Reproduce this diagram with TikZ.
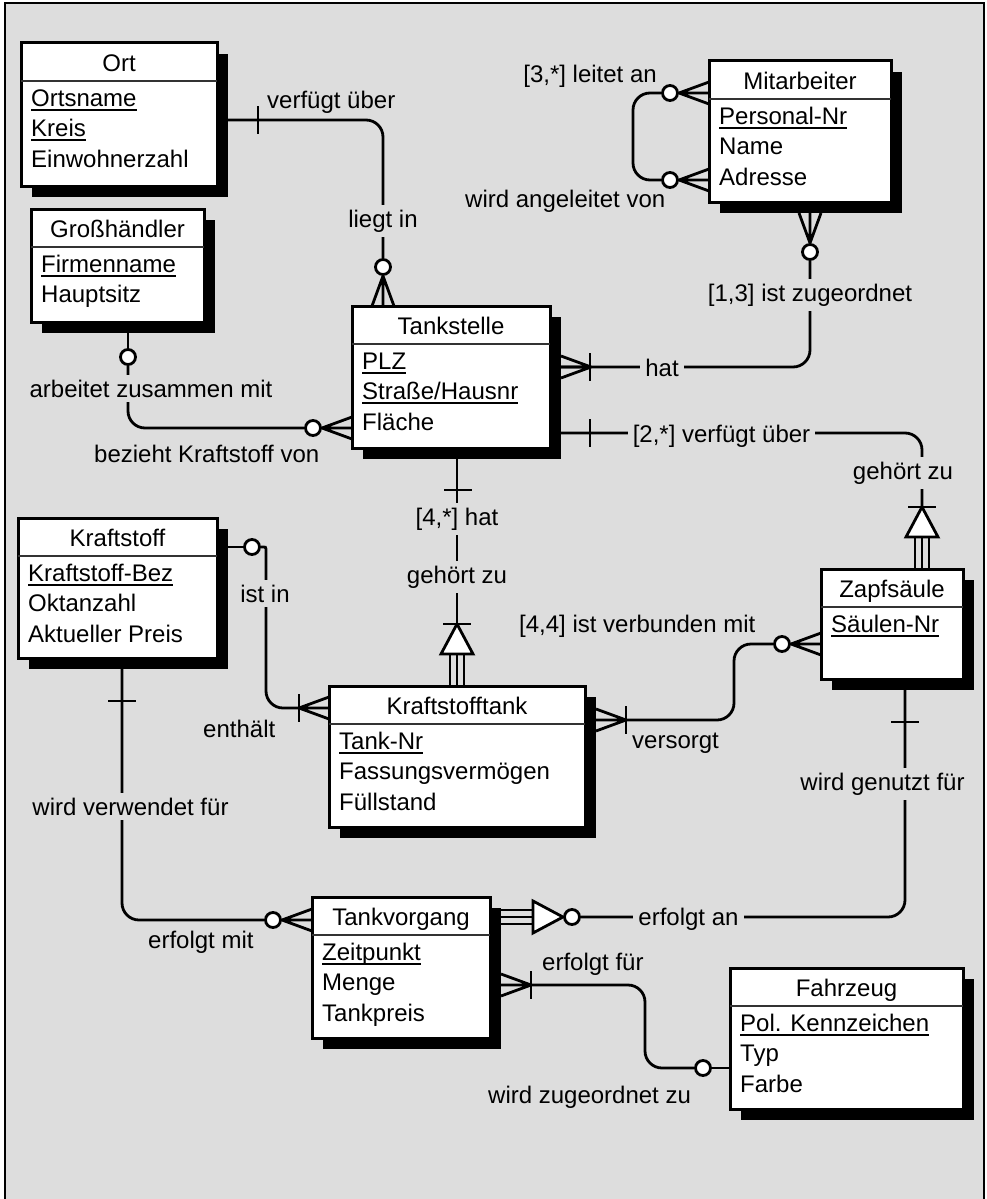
\documentclass[tikz,border=0pt]{standalone}
\usepackage{fontspec}
\setmainfont{Liberation Sans}
\usepackage{xcolor}
\usepackage{tikz}
\usetikzlibrary{shadows,calc}

\definecolor{bg}{RGB}{221,221,221}

% underlined key attribute
\newcommand{\keyattr}[1]{\setbox0\hbox{#1}\rlap{\rule[-4.5pt]{\wd0}{1.8pt}}\box0}

% entity: name, left, top, width, height, title, attributes
\newcommand{\entity}[7]{%
    \node[entity, minimum width=#4pt, minimum height=#5pt] (#1) at (#2+#4/2, #3+#5/2) {};
    \draw[divider] ([yshift=-38pt]#1.north west) -- ([yshift=-38pt]#1.north east);
    \node[anchor=base, inner sep=0pt] (#1-title) at ([yshift=-28pt]#1.north) {#6};
    \foreach \attr [count=\i from 0] in {#7}
        \node[anchor=base west, inner sep=0pt] (#1-\i) at ([xshift=10pt, yshift=-63pt-30.5pt*\i]#1.north west) {\attr};
}

\begin{document}
\begin{tikzpicture}[x=1pt, y=-1pt, every node/.style={font=\fontsize{24pt}{30pt}\selectfont}]
    % Define styles
    \tikzstyle{entity} = [rectangle, draw, fill=white, line width=3pt, inner sep=0pt, outer sep=0pt, drop shadow={shadow xshift=11pt, shadow yshift=-11pt, opacity=1, fill=black}]
    \tikzstyle{divider} = [line width=2.8pt, black!80]
    \tikzstyle{rel} = [line width=2.8pt, rounded corners=17pt]
    \tikzstyle{leg} = [line width=2.8pt, line join=round]
    \tikzstyle{sub} = [line width=2pt]
    \tikzstyle{opt} = [circle, draw, fill=white, line width=2.8pt, inner sep=0pt, minimum size=15pt]
    \tikzstyle{lbl} = [inner sep=0pt, anchor=base west]
    \tikzstyle{gap} = [fill=bg, inner sep=5pt, anchor=base]
    \tikzset{
        crow/.pic={\draw[leg] (0,-11) -- (30,0) -- (0,11) (0,0) -- (30,0); \coordinate (-tip) at (30,0);},
        isa/.pic={\draw[sub] (0,-7) -- (32,-7) (0,0) -- (32,0) (0,7) -- (32,7);
                  \draw[leg, line join=miter, fill=white] (32,-16) -- (62,0) -- (32,16) -- cycle;
                  \coordinate (-tip) at (62,0);}
    }

    % Frame
    \useasboundingbox (0,0) rectangle (987,1199);
    \fill[bg] (5,3) rectangle (984,1199);
    \draw[line width=2pt] (5,1199) -- (5,3) -- (984,3) -- (984,1199);

    % Entities
    \entity{ort}{21}{43}{196}{143}{Ort}{\keyattr{Ortsname}, \keyattr{Kreis}, Einwohnerzahl}
    \entity{gross}{31}{209}{173}{113}{Großhändler}{\keyattr{Firmenname}, Hauptsitz}
    \entity{ma}{709}{61}{182}{141}{Mitarbeiter}{\keyattr{Personal-Nr}, Name, Adresse}
    \entity{tank}{352}{306}{198}{142}{Tankstelle}{\keyattr{PLZ}, \keyattr{Straße/Hausnr}, Fläche}
    \entity{kraft}{18}{518}{199}{140}{Kraftstoff}{\keyattr{Kraftstoff-Bez}, Oktanzahl, Aktueller Preis}
    \entity{ktank}{329}{686}{256}{141}{Kraftstofftank}{\keyattr{Tank-Nr}, Fassungsvermögen, Füllstand}
    \entity{zapf}{821}{569}{142}{110}{Zapfsäule}{\keyattr{Säulen-Nr}}
    \entity{vorgang}{312}{897}{178}{141}{Tankvorgang}{\keyattr{Zeitpunkt}, Menge, Tankpreis}
    \entity{fzg}{730}{968}{233}{141}{Fahrzeug}{\keyattr{Pol. Kennzeichen}, Typ, Farbe}

    % Optional ends
    \node[opt] (o1) at (383,267) {};
    \node[opt] (o2) at (670,93) {};
    \node[opt] (o3) at (670,180) {};
    \node[opt] (o4) at (810,252) {};
    \node[opt] (o5) at (128,357) {};
    \node[opt] (o6) at (313,428) {};
    \node[opt] (o7) at (252,547) {};
    \node[opt] (o8) at (782,644) {};
    \node[opt] (o9) at (572,917) {};
    \node[opt] (o10) at (273,920) {};
    \node[opt] (o11) at (703,1068) {};

    % Crow's feet and dependencies
    \pic (c1) [rotate=90] at (o1 |- tank.north) {crow};
    \pic (c2) [rotate=180] at (ma.west |- o2) {crow};
    \pic (c3) [rotate=180] at (ma.west |- o3) {crow};
    \pic (c4) [rotate=-90] at ($(o4 |- ma.south)+(0,11)$) {crow};
    \pic (c5) at ($(tank.east |- 0,367)+(11,0)$) {crow};
    \pic (c6) [rotate=180] at (tank.west |- o6) {crow};
    \pic (c7) [rotate=180] at (ktank.west |- 0,708) {crow};
    \pic (c8) at ($(ktank.east |- 0,720)+(11,0)$) {crow};
    \pic (c9) [rotate=180] at (zapf.west |- o8) {crow};
    \pic (c10) at ($(vorgang.east |- 0,985)+(11,0)$) {crow};
    \pic (c11) [rotate=180] at (vorgang.west |- o10) {crow};
    \pic (d1) [rotate=90] at (ktank.north) {isa};
    \pic (d2) [rotate=90] at ($(zapf.north)+(30,0)$) {isa};
    \pic (d3) at ($(vorgang.east |- o9)+(11,0)$) {isa};

    % Relationships
    \draw[rel] (ort.east |- 0,120) -- (383,120) -- (o1.north);
    \draw[rel] (o2.west) -- (633,93) -- (633,180) -- (o3.west);
    \draw[rel] (o4.south) -- (810,367) -- (tank.east |- 0,367);
    \draw[rel] (tank.east |- 0,433) -- (d2-tip |- 0,433) -- (d2-tip);
    \draw[rel] (gross.south -| o5) -- (o5.north);
    \draw[rel] (o5.south) -- (128,428) -- (o6.west);
    \draw[rel] (ktank.north |- tank.south) -- (d1-tip);
    \draw[rel] (kraft.east |- o7) -- (o7.west);
    \draw[rel] (o7.east) .. controls (266,547) .. (266,566) -- (266,708) -- (c7-tip);
    \draw[rel] (c8-tip) -- (734,720) -- (734,644) -- (o8.west);
    \draw[rel] ($(zapf.south)+(13,0)$) -- (905,917) -- (o9.east);
    \draw[rel] (c10-tip) -- (645,985) -- (645,1068) -- (o11.west);
    \draw[rel] (o11.east) -- (fzg.west |- o11);
    \draw[rel] ($(kraft.south)+(4.5,0)$) -- (122,920) -- (o10.west);

    % Bars
    \draw[leg] (258,106) -- (258,134);
    \draw[leg] (590,353) -- (590,381);
    \draw[leg] (590,419) -- (590,447);
    \draw[leg] (444,490) -- (472,490);
    \draw[leg] (443,624) -- (471,624);
    \draw[leg] (908,507) -- (936,507);
    \draw[leg] (299,694) -- (299,722);
    \draw[leg] (626,706) -- (626,734);
    \draw[leg] (108,701) -- (136,701);
    \draw[leg] (891,722) -- (919,722);
    \draw[leg] (531,971) -- (531,999);

    % Labels
    \node[lbl] (t1) at (267,108) {verfügt über};
    \node[gap] (t2) at (383,227) {liegt in};
    \node[lbl, anchor=base east] (t3) at (657,82) {[3,*] leitet an};
    \node[lbl] (t4) at (465,207) {wird angeleitet von};
    \node[gap] (t5) at (810,301) {[1,3] ist zugeordnet};
    \node[gap] (t6) at (662,376) {hat};
    \node[gap] (t7) at (721.5,442) {[2,*] verfügt über};
    \node[gap] (t8) at (903,479) {gehört zu};
    \node[gap] (t9) at (151,397) {arbeitet zusammen mit};
    \node[lbl] (t10) at (94,462) {bezieht Kraftstoff von};
    \node[gap] (t11) at (457,525) {[4,*] hat};
    \node[gap] (t12) at (457,583) {gehört zu};
    \node[gap] (t13) at (265,602) {ist in};
    \node[lbl] (t14) at (203,737) {enthält};
    \node[lbl] (t15) at (519,632) {[4,4] ist verbunden mit};
    \node[lbl] (t16) at (632,748) {versorgt};
    \node[gap] (t17) at (882.5,790) {wird genutzt für};
    \node[gap] (t18) at (130.5,815) {wird verwendet für};
    \node[lbl] (t19) at (148,948) {erfolgt mit};
    \node[gap] (t20) at (688.5,925) {erfolgt an};
    \node[lbl] (t21) at (542,970) {erfolgt für};
    \node[lbl] (t22) at (488,1103) {wird zugeordnet zu};
\end{tikzpicture}
\end{document}
